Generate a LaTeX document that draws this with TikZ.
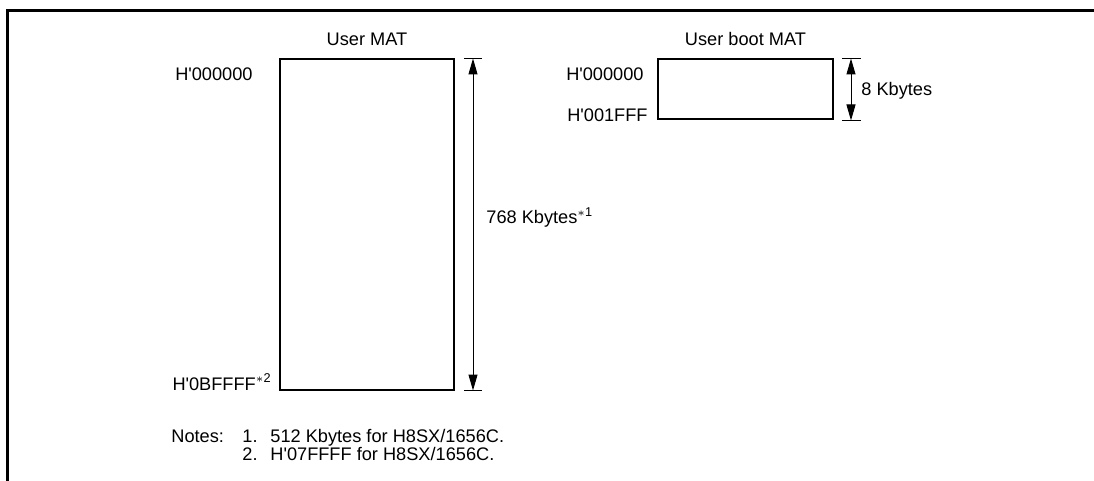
\documentclass[tikz,border=0pt]{standalone}
\usepackage{fontspec}
\setmainfont{Liberation Sans}[Ligatures=TeXOff]
\usetikzlibrary{arrows.meta,positioning,calc}

\begin{document}
\begin{tikzpicture}[x=0.5pt,y=-0.5pt,
  membox/.style={draw,line width=1pt,inner sep=0pt},
  txt/.style={font=\fontsize{9.1}{11}\selectfont,inner sep=0pt},
  addr/.style={txt,anchor=base east},
  dimline/.style={line width=0.5pt,{Triangle[length=8pt,width=4.5pt]}-{Triangle[length=8pt,width=4.5pt]}},
  tickline/.style={line width=0.5pt}]
  \useasboundingbox (0,0) rectangle (1094,481);
  % Frame
  \draw[line width=1.5pt] (7,481) -- (7,10.5) -- (1094,10.5);
  % User MAT
  \node[membox,minimum width=87pt,minimum height=165pt] (umat) at (367,224.5) {};
  \node[txt,anchor=base] (umatT) at (367,46) {User MAT};
  \node[addr] (umatA) at (253,81) {H'000000};
  \node[addr] (umatB) at (272,390) {H'0BFFFF\textsuperscript{$\ast$2}};
  % User MAT size
  \coordinate (umTop) at ([xshift=9pt]umat.north east);
  \coordinate (umBot) at ([xshift=9pt]umat.south east);
  \draw[tickline] ([xshift=-4.5pt]umTop) -- ([xshift=4.5pt]umTop);
  \draw[tickline] ([xshift=-4.5pt]umBot) -- ([xshift=4.5pt]umBot);
  \draw[dimline] (umTop) -- (umBot);
  \node[txt,anchor=base west] (umSize) at (486,224) {768 Kbytes\textsuperscript{$\ast$1}};
  % User boot MAT
  \node[membox,minimum width=87.5pt,minimum height=30pt] (ubmat) at (745.5,89.5) {};
  \node[txt,anchor=base] (ubmatT) at (745.5,46) {User boot MAT};
  \node[addr] (ubmatA) at (644,81) {H'000000};
  \node[addr] (ubmatB) at (648,122) {H'001FFF};
  % User boot MAT size
  \coordinate (ubTop) at ([xshift=8.5pt]ubmat.north east);
  \coordinate (ubBot) at ([xshift=8.5pt]ubmat.south east);
  \draw[tickline] ([xshift=-4.5pt]ubTop) -- ([xshift=5pt]ubTop);
  \draw[tickline] ([xshift=-4.5pt]ubBot) -- ([xshift=5pt]ubBot);
  \draw[dimline] (ubTop) -- (ubBot);
  \node[txt,anchor=base west] (ubSize) at (861,96) {8 Kbytes};
  % Notes
  \node[txt,anchor=base west] (notes) at (171,442) {Notes:};
  \node[txt,anchor=base west] (n1) at (242,442) {1.};
  \node[txt,anchor=base west] (n1t) at (270,442) {512 Kbytes for H8SX/1656C.};
  \node[txt,anchor=base west] (n2) at (242,460) {2.};
  \node[txt,anchor=base west] (n2t) at (270,460) {H'07FFFF for H8SX/1656C.};
\end{tikzpicture}
\end{document}
